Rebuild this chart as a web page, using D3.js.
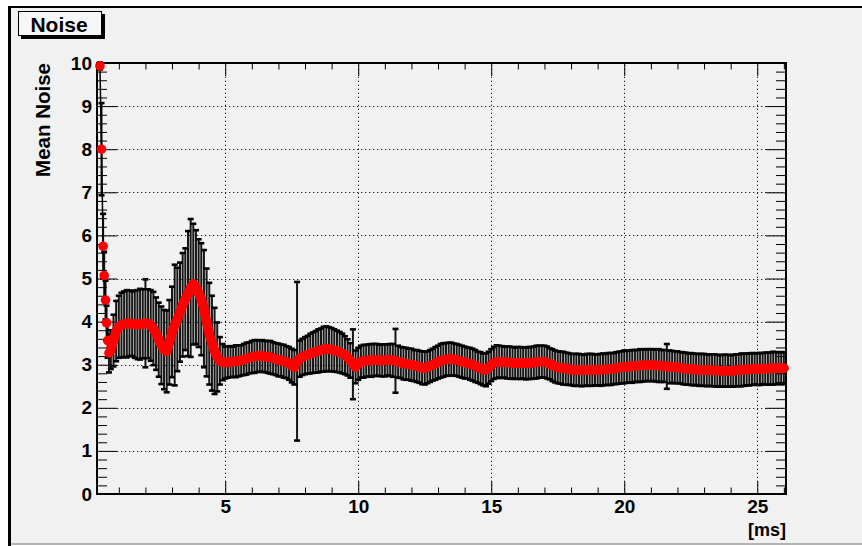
<!DOCTYPE html>
<html>
<head>
<meta charset="utf-8">
<script src="https://cdn.jsdelivr.net/npm/d3@7"></script>
<style>
  body { margin: 0; background: #ffffff; }
  svg { display: block; }
  text { font-family: "Liberation Sans", Arial, Helvetica, sans-serif; font-weight: bold; fill: #000; }
</style>
</head>
<body>
<script>
/* ==== data ==== */
// first few samples (irregular spacing, steep decay)
var earlyTime = [0.29, 0.35, 0.41, 0.45, 0.50, 0.54, 0.58, 0.63];
var earlyMean = [9.93, 8.00, 5.75, 5.07, 4.50, 3.97, 3.56, 3.27];
var earlyErr  = [0.08, 1.07, 0.75, 0.55, 0.45, 0.40, 0.40, 0.45];

// regular samples, every 0.1 ms starting at 0.7 ms
var sampleStart = 0.7, sampleStep = 0.1;
var meanNoise = [
  3.35, 3.56, 3.78,
  3.88, 3.92, 3.94, 3.95, 3.96, 3.95, 3.94, 3.93, 3.94, 3.95,
  3.96, 3.95, 3.91, 3.84, 3.72, 3.58, 3.45, 3.35, 3.31, 3.52,
  3.76, 3.92, 4.05, 4.22, 4.39, 4.52, 4.65, 4.78, 4.87, 4.80,
  4.66, 4.52, 4.30, 3.98, 3.72, 3.50, 3.32, 3.18, 3.09, 3.06,
  3.05, 3.06, 3.07, 3.07, 3.08, 3.09, 3.10, 3.12, 3.14, 3.16,
  3.18, 3.19, 3.20, 3.20, 3.20, 3.19, 3.18, 3.17, 3.15, 3.13,
  3.11, 3.10, 3.08, 3.06, 3.03, 2.98, 2.94, 3.08, 3.14, 3.18,
  3.21, 3.23, 3.26, 3.28, 3.30, 3.32, 3.34, 3.36, 3.37, 3.36,
  3.35, 3.33, 3.31, 3.29, 3.26, 3.22, 3.17, 3.10, 3.01, 2.95,
  3.02, 3.07, 3.08, 3.09, 3.10, 3.10, 3.11, 3.11, 3.10, 3.10,
  3.10, 3.11, 3.11, 3.10, 3.09, 3.07, 3.05, 3.03, 3.02, 3.01,
  3.00, 2.98, 2.97, 2.95, 2.93, 2.92, 2.94, 2.97, 3.00, 3.03,
  3.06, 3.09, 3.11, 3.12, 3.13, 3.13, 3.12, 3.11, 3.09, 3.07,
  3.05, 3.04, 3.02, 3.00, 2.97, 2.94, 2.92, 2.89, 2.88, 2.93,
  2.99, 3.04, 3.07, 3.07, 3.06, 3.06, 3.05, 3.05, 3.04, 3.04,
  3.04, 3.04, 3.04, 3.03, 3.04, 3.04, 3.05, 3.06, 3.07, 3.07,
  3.07, 3.05, 3.02, 2.99, 2.96, 2.94, 2.93, 2.92, 2.91, 2.90,
  2.89, 2.88, 2.88, 2.88, 2.87, 2.87, 2.88, 2.88, 2.88, 2.88,
  2.88, 2.88, 2.89, 2.89, 2.90, 2.90, 2.91, 2.92, 2.93, 2.94,
  2.95, 2.95, 2.96, 2.96, 2.97, 2.97, 2.98, 2.98, 2.99, 2.99,
  2.99, 2.99, 2.98, 2.98, 2.97, 2.97, 2.96, 2.95, 2.95, 2.94,
  2.94, 2.93, 2.92, 2.91, 2.90, 2.90, 2.89, 2.89, 2.88, 2.88,
  2.88, 2.87, 2.87, 2.87, 2.87, 2.86, 2.86, 2.86, 2.86, 2.86,
  2.86, 2.86, 2.87, 2.87, 2.88, 2.88, 2.89, 2.89, 2.90, 2.90,
  2.90, 2.90, 2.91, 2.91, 2.91, 2.91, 2.92, 2.92, 2.92, 2.92,
  2.92
];
var noiseErr = [
  0.45, 0.60, 0.70,
  0.72, 0.75, 0.76, 0.78, 0.76, 0.75, 0.78, 0.80, 0.82, 0.80,
  1.02, 0.80, 0.82, 0.85, 0.84, 0.86, 0.90, 0.92, 0.95, 0.98,
  1.05, 1.40, 1.20, 1.15, 1.20, 1.18, 1.45, 1.60, 1.40, 1.32,
  1.25, 1.30, 1.36, 1.25, 1.18, 1.10, 1.00, 0.80, 0.55, 0.42,
  0.37, 0.36, 0.36, 0.35, 0.37, 0.36, 0.35, 0.36, 0.37, 0.36,
  0.37, 0.38, 0.37, 0.36, 0.37, 0.36, 0.37, 0.38, 0.37, 0.37,
  0.38, 0.37, 0.38, 0.37, 0.38, 0.39, 0.40, 1.84, 0.42, 0.42,
  0.43, 0.44, 0.46, 0.47, 0.48, 0.50, 0.50, 0.52, 0.52, 0.51,
  0.50, 0.49, 0.48, 0.47, 0.46, 0.44, 0.42, 0.40, 0.81, 0.38,
  0.37, 0.37, 0.38, 0.37, 0.37, 0.38, 0.37, 0.37, 0.36, 0.37,
  0.37, 0.36, 0.37, 0.38, 0.74, 0.37, 0.36, 0.37, 0.37, 0.36,
  0.37, 0.36, 0.37, 0.37, 0.38, 0.38, 0.37, 0.37, 0.37, 0.38,
  0.38, 0.39, 0.39, 0.38, 0.38, 0.38, 0.37, 0.37, 0.37, 0.37,
  0.37, 0.36, 0.37, 0.37, 0.37, 0.36, 0.37, 0.37, 0.38, 0.37,
  0.37, 0.37, 0.38, 0.37, 0.37, 0.36, 0.37, 0.37, 0.37, 0.36,
  0.37, 0.37, 0.36, 0.37, 0.37, 0.37, 0.37, 0.38, 0.37, 0.37,
  0.37, 0.37, 0.36, 0.37, 0.37, 0.37, 0.37, 0.38, 0.37, 0.37,
  0.36, 0.37, 0.37, 0.37, 0.37, 0.36, 0.37, 0.37, 0.37, 0.36,
  0.36, 0.37, 0.37, 0.36, 0.37, 0.37, 0.36, 0.37, 0.37, 0.37,
  0.38, 0.37, 0.37, 0.38, 0.37, 0.37, 0.38, 0.37, 0.37, 0.37,
  0.37, 0.37, 0.37, 0.38, 0.37, 0.37, 0.52, 0.38, 0.37, 0.37,
  0.37, 0.36, 0.37, 0.37, 0.36, 0.37, 0.37, 0.36, 0.37, 0.37,
  0.37, 0.37, 0.36, 0.37, 0.37, 0.37, 0.36, 0.37, 0.37, 0.37,
  0.36, 0.37, 0.37, 0.37, 0.38, 0.37, 0.37, 0.37, 0.37, 0.36,
  0.37, 0.37, 0.36, 0.37, 0.37, 0.37, 0.38, 0.37, 0.37, 0.37,
  0.37
];

// axis labels
var xTickValues = [5, 10, 15, 20, 25];
var yTickValues = [0, 1, 2, 3, 4, 5, 6, 7, 8, 9, 10];
var titleText = "Noise";
var yTitle = "Mean Noise";
var xTitle = "[ms]";

/* ==== build points ==== */
var early = earlyTime.map(function(t, i) {
  return { t: t, v: earlyMean[i], e: earlyErr[i] };
});
var regular = meanNoise.map(function(v, i) {
  return { t: sampleStart + i * sampleStep, v: v, e: noiseErr[i] };
});
var points = early.concat(regular);

var width = 862, height = 546;
var frame = { left: 97, right: 786, top: 63, bottom: 494 };

var x = d3.scaleLinear().domain([0.18, 26.08]).range([frame.left, frame.right]);
var y = d3.scaleLinear().domain([0, 10]).range([frame.bottom, frame.top]);

var svg = d3.select("body").append("svg")
    .attr("width", width)
    .attr("height", height);

// canvas / pad background with its border
svg.append("rect")
    .attr("x", 10).attr("y", 7)
    .attr("width", width - 10).attr("height", 537)
    .attr("fill", "#f1f1f1");
svg.append("line")
    .attr("x1", 8).attr("x2", width).attr("y1", 7).attr("y2", 7)
    .attr("stroke", "#000").attr("stroke-width", 2);
svg.append("line")
    .attr("x1", 9.5).attr("x2", 9.5).attr("y1", 6).attr("y2", height)
    .attr("stroke", "#000").attr("stroke-width", 3);
svg.append("line")
    .attr("x1", 11).attr("x2", width).attr("y1", 544).attr("y2", 544)
    .attr("stroke", "#b4b4b4").attr("stroke-width", 2);

// grid (dotted)
var grid = svg.append("g").attr("class", "grid")
    .attr("stroke", "#222").attr("stroke-width", 1)
    .attr("stroke-dasharray", "1.3,2.7");
grid.selectAll(".gx")
    .data(xTickValues)
  .enter().append("line")
    .attr("x1", function(d) { return Math.round(x(d)) + 0.5; })
    .attr("x2", function(d) { return Math.round(x(d)) + 0.5; })
    .attr("y1", frame.bottom).attr("y2", frame.top);
grid.selectAll(".gy")
    .data(yTickValues.slice(1, -1))
  .enter().append("line")
    .attr("y1", function(d) { return Math.round(y(d)) + 0.5; })
    .attr("y2", function(d) { return Math.round(y(d)) + 0.5; })
    .attr("x1", frame.left).attr("x2", frame.right);

// axes: major + minor ticks on all four sides (ticks point inward)
var xMinor = d3.range(1, 27).filter(function(d) { return d % 5 !== 0; });
var yMinor = d3.range(0, 50).map(function(d) { return d / 5; }).filter(function(d) { return d % 1 !== 0; });

function styleAxis(g) {
  g.select(".domain").remove();
  g.selectAll(".tick line").attr("stroke", "#000").attr("stroke-width", 1);
  g.selectAll(".tick text")
    .attr("font-size", 19)
    .attr("font-family", "Liberation Sans, Arial, sans-serif")
    .attr("font-weight", "bold")
    .attr("fill", "#000");
}

svg.append("g")
    .attr("transform", "translate(0," + frame.bottom + ")")
    .call(d3.axisBottom(x).tickValues(xTickValues).tickSize(-13).tickPadding(6).tickFormat(d3.format("d")))
    .call(styleAxis);
svg.append("g")
    .attr("transform", "translate(0," + frame.bottom + ")")
    .call(d3.axisBottom(x).tickValues(xMinor).tickSize(-6.5).tickFormat(""))
    .call(styleAxis);
svg.append("g")
    .attr("transform", "translate(0," + frame.top + ")")
    .call(d3.axisTop(x).tickValues(xTickValues).tickSize(-13).tickFormat(""))
    .call(styleAxis);
svg.append("g")
    .attr("transform", "translate(0," + frame.top + ")")
    .call(d3.axisTop(x).tickValues(xMinor).tickSize(-6.5).tickFormat(""))
    .call(styleAxis);

svg.append("g")
    .attr("transform", "translate(" + frame.left + ",0)")
    .call(d3.axisLeft(y).tickValues(yTickValues).tickSize(-20).tickPadding(5).tickFormat(d3.format("d")))
    .call(styleAxis);
svg.append("g")
    .attr("transform", "translate(" + frame.left + ",0)")
    .call(d3.axisLeft(y).tickValues(yMinor).tickSize(-10).tickFormat(""))
    .call(styleAxis);
svg.append("g")
    .attr("transform", "translate(" + frame.right + ",0)")
    .call(d3.axisRight(y).tickValues(yTickValues).tickSize(-20).tickFormat(""))
    .call(styleAxis);
svg.append("g")
    .attr("transform", "translate(" + frame.right + ",0)")
    .call(d3.axisRight(y).tickValues(yMinor).tickSize(-10).tickFormat(""))
    .call(styleAxis);

// frame
svg.append("rect")
    .attr("x", frame.left).attr("y", frame.top)
    .attr("width", frame.right - frame.left)
    .attr("height", frame.bottom - frame.top)
    .attr("fill", "none").attr("stroke", "#000").attr("stroke-width", 2);

// error bars: dense, so they merge into a dark band with black edges
var capHalf = 3;
var bars = svg.append("g").attr("class", "errors")
    .attr("stroke", "#000");
bars.selectAll(".ebar")
    .data(points)
  .enter().append("line")
    .attr("class", "ebar")
    .attr("stroke", "#161616")
    .attr("stroke-width", 2)
    .attr("x1", function(d) { return x(d.t); })
    .attr("x2", function(d) { return x(d.t); })
    .attr("y1", function(d) { return y(d.v + d.e); })
    .attr("y2", function(d) { return y(d.v - d.e); });
bars.selectAll(".capTop")
    .data(points)
  .enter().append("line")
    .attr("class", "capTop")
    .attr("stroke-width", 2.6)
    .attr("x1", function(d) { return x(d.t) - capHalf; })
    .attr("x2", function(d) { return x(d.t) + capHalf; })
    .attr("y1", function(d) { return y(d.v + d.e); })
    .attr("y2", function(d) { return y(d.v + d.e); });
bars.selectAll(".capBot")
    .data(points)
  .enter().append("line")
    .attr("class", "capBot")
    .attr("stroke-width", 2.6)
    .attr("x1", function(d) { return x(d.t) - capHalf; })
    .attr("x2", function(d) { return x(d.t) + capHalf; })
    .attr("y1", function(d) { return y(d.v - d.e); })
    .attr("y2", function(d) { return y(d.v - d.e); });

// thin black connecting line through the samples (visible between the first markers)
svg.append("path")
    .datum(points)
    .attr("fill", "none")
    .attr("stroke", "#000")
    .attr("stroke-width", 1.5)
    .attr("d", d3.line()
      .x(function(d) { return x(d.t); })
      .y(function(d) { return y(d.v); }));

// dense markers merge into a thick red trace
svg.append("path")
    .datum(regular)
    .attr("fill", "none")
    .attr("stroke", "#ff0000")
    .attr("stroke-width", 9.5)
    .attr("stroke-linejoin", "round")
    .attr("stroke-linecap", "round")
    .attr("d", d3.line()
      .x(function(d) { return x(d.t); })
      .y(function(d) { return y(d.v); }));

svg.append("g").selectAll("circle")
    .data(points)
  .enter().append("circle")
    .attr("cx", function(d) { return x(d.t); })
    .attr("cy", function(d) { return y(d.v); })
    .attr("r", 4.8)
    .attr("fill", "#ff0000");

// axis titles
svg.append("text")
    .attr("transform", "translate(50," + frame.top + ") rotate(-90)")
    .attr("text-anchor", "end")
    .attr("font-size", 20.5)
    .text(yTitle);
svg.append("text")
    .attr("x", frame.right).attr("y", 536)
    .attr("text-anchor", "end")
    .attr("font-size", 18)
    .text(xTitle);

// title box with shadow
svg.append("rect")
    .attr("x", 21).attr("y", 14).attr("width", 84).attr("height", 25)
    .attr("fill", "#000");
svg.append("rect")
    .attr("x", 18.5).attr("y", 11.5).attr("width", 83).attr("height", 24)
    .attr("fill", "#f6f6f6").attr("stroke", "#000").attr("stroke-width", 1);
svg.append("text")
    .attr("x", 59).attr("y", 32)
    .attr("text-anchor", "middle")
    .attr("font-size", 21)
    .text(titleText);
</script>
</body>
</html>
